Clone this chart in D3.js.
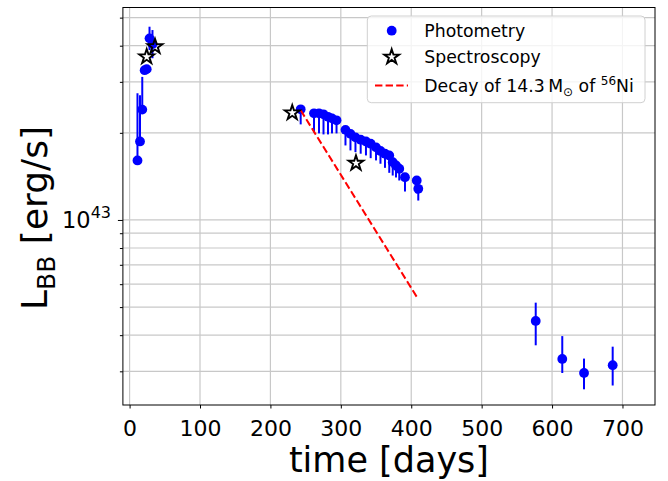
<!DOCTYPE html>
<html><head><meta charset="utf-8">
<script src="https://cdn.jsdelivr.net/npm/d3@7"></script>
<style>body{margin:0;background:#fff}svg{display:block;font-family:"DejaVu Sans",sans-serif}</style>
</head><body><svg id="c" width="668" height="481"></svg>
<script>
// Photometry: time [days], L_BB in units of 1e43 erg/s, error bar ends
const photDays = [11.2, 14.8, 18.0, 21.4, 24.3, 28.3, 32.5, 243.0, 261.9, 269.0, 275.4, 281.8, 287.5, 293.9, 306.6, 313.7, 320.8, 328.2, 335.7, 342.4, 350.0, 356.3, 362.7, 368.8, 373.7, 378.4, 383.0, 391.1, 407.8, 410.0, 576.8, 614.5, 645.4, 686.1];
const photLum  = [1.606, 1.868, 2.406, 3.292, 3.319, 4.240, 4.05, 2.412, 2.336, 2.336, 2.317, 2.272, 2.244, 2.209, 2.048, 1.983, 1.929, 1.894, 1.868, 1.834, 1.781, 1.732, 1.694, 1.671, 1.584, 1.543, 1.503, 1.405, 1.369, 1.281, 0.448, 0.331, 0.296, 0.315];
const photLow  = [1.606, 1.868, 2.354, 3.20, 3.25, 3.863, 3.62, 2.139, 2.007, 1.991, 1.975, 1.975, 1.991, 1.991, 1.809, 1.739, 1.716, 1.694, 1.671, 1.635, 1.606, 1.564, 1.514, 1.455, 1.424, 1.402, 1.369, 1.254, 1.234, 1.167, 0.369, 0.296, 0.260, 0.268];
const photHigh = [2.740, 2.697, 3.121, 3.40, 3.40, 4.652, 4.53, 2.412, 2.336, 2.336, 2.317, 2.272, 2.244, 2.209, 2.048, 1.983, 1.929, 1.894, 1.868, 1.834, 1.781, 1.732, 1.694, 1.671, 1.584, 1.543, 1.503, 1.405, 1.369, 1.281, 0.518, 0.397, 0.332, 0.365];
// Spectroscopy epochs
const specDays = [24.3, 36.1, 231.0, 321.5];
const specLum  = [3.661, 3.972, 2.345, 1.571];
// Decay of 14.3 Msun of 56Ni (straight on log axis)
const decayDays = [243.0, 410.0];
const decayLum  = [2.392, 0.532];
// Axis ticks
const xTicks = [0, 100, 200, 300, 400, 500, 600, 700];
const yMajor = [1];
const yMinor = [0.3, 0.4, 0.5, 0.6, 0.7, 0.8, 0.9, 2, 3, 4, 5];

const svg = d3.select("#c");
const m = {l: 122.9, r: 655, t: 7.5, b: 405};
const x = d3.scaleLinear().domain([-9.5, 746.2]).range([m.l, m.r]);
const y = d3.scaleLog().domain([0.2295, 5.42]).range([m.b, m.t]);
const blue = "#0000ff";
const FONT = "DejaVu Sans, sans-serif";

// grid
const grid = svg.append("g").attr("stroke", "#c8c8c8").attr("stroke-width", 1.2);
grid.selectAll("line.gx").data(xTicks).join("line")
  .attr("x1", d => x(d)).attr("x2", d => x(d)).attr("y1", m.t).attr("y2", m.b);
grid.selectAll("line.gy").data(yMajor.concat(yMinor)).join("line")
  .attr("y1", d => y(d)).attr("y2", d => y(d)).attr("x1", m.l).attr("x2", m.r);

// x axis
const gx = svg.append("g").attr("transform", `translate(0,${m.b})`)
  .call(d3.axisBottom(x).tickValues(xTicks).tickSize(3.5).tickFormat(d3.format("d")));
gx.select(".domain").remove();
gx.selectAll(".tick line").attr("stroke", "#000").attr("stroke-width", 1);
gx.selectAll("text").attr("font-size", 22).attr("font-family", FONT).attr("fill", "#000")
  .attr("dy", 0).attr("y", 30.5);

// y axis
const gyMaj = svg.append("g").attr("transform", `translate(${m.l},0)`)
  .call(d3.axisLeft(y).tickValues(yMajor).tickSize(5).tickFormat(""));
gyMaj.select(".domain").remove();
gyMaj.selectAll(".tick line").attr("stroke", "#000");
const gyMin = svg.append("g").attr("transform", `translate(${m.l},0)`)
  .call(d3.axisLeft(y).tickValues(yMinor).tickSize(3).tickFormat(""));
gyMin.select(".domain").remove();
gyMin.selectAll(".tick line").attr("stroke", "#000");

yMajor.forEach(v => {
  const t = svg.append("text").attr("x", 111).attr("y", y(v) + 8.3)
    .attr("text-anchor", "end").attr("font-family", FONT).attr("font-size", 22.5).attr("fill", "#000");
  t.append("tspan").text("10");
  t.append("tspan").attr("dy", -10).attr("font-size", 16).text(String(43 + Math.round(Math.log10(v))));
});

// data
const plot = svg.append("g");
plot.selectAll("line.err").data(photDays).join("line")
  .attr("x1", (d) => x(d)).attr("x2", (d) => x(d))
  .attr("y1", (d, i) => y(photLow[i])).attr("y2", (d, i) => y(photHigh[i]))
  .attr("stroke", blue).attr("stroke-width", 2);
plot.selectAll("circle.pt").data(photDays).join("circle")
  .attr("cx", d => x(d)).attr("cy", (d, i) => y(photLum[i])).attr("r", 4.9).attr("fill", blue);

plot.append("path")
  .attr("d", d3.line().x(d => x(d[0])).y(d => y(d[1]))(decayDays.map((d, i) => [d, decayLum[i]])))
  .attr("fill", "none").attr("stroke", "#ff0000").attr("stroke-width", 2).attr("stroke-dasharray", "7.4,3.2");

function starPath(R) {
  const r = R * 0.381966, p = [];
  for (let i = 0; i < 10; i++) {
    const a = -Math.PI / 2 + i * Math.PI / 5, rr = i % 2 ? r : R;
    p.push([rr * Math.cos(a), rr * Math.sin(a)]);
  }
  return "M" + p.map(q => q[0].toFixed(2) + "," + q[1].toFixed(2)).join("L") + "Z";
}
plot.selectAll("path.star").data(specDays).join("path")
  .attr("transform", (d, i) => `translate(${x(d)},${y(specLum[i])})`)
  .attr("d", starPath(7.8)).attr("fill", "none").attr("stroke", "#000").attr("stroke-width", 1.9)
  .attr("stroke-linejoin", "miter");

// frame
svg.append("rect").attr("x", m.l).attr("y", m.t).attr("width", m.r - m.l).attr("height", m.b - m.t)
  .attr("fill", "none").attr("stroke", "#000").attr("stroke-width", 1);

// legend
const lg = svg.append("g");
lg.append("rect").attr("x", 367.3).attr("y", 16).attr("width", 277.7).attr("height", 86.7).attr("rx", 4)
  .attr("fill", "#fff").attr("fill-opacity", 0.8).attr("stroke", "#d0d0d0").attr("stroke-width", 1);
lg.append("circle").attr("cx", 391.7).attr("cy", 30.7).attr("r", 4.9).attr("fill", blue);
lg.append("path").attr("transform", "translate(391.7,57)").attr("d", starPath(7.8))
  .attr("fill", "none").attr("stroke", "#000").attr("stroke-width", 1.9);
lg.append("line").attr("x1", 375).attr("x2", 408).attr("y1", 85.6).attr("y2", 85.6)
  .attr("stroke", "#ff0000").attr("stroke-width", 2).attr("stroke-dasharray", "7.4,3.2");
const lt = (yy) => lg.append("text").attr("x", 424.3).attr("y", yy).attr("font-family", FONT)
  .attr("font-size", 17.3).attr("fill", "#000");
lt(37.3).text("Photometry");
lt(63.3).text("Spectroscopy");
const t3 = lt(91.7);
t3.append("tspan").text("Decay of 14.3\u2009M");
t3.append("tspan").attr("font-size", 12).attr("dy", 4).text("\u2299");
t3.append("tspan").attr("dy", -4).text(" of ");
t3.append("tspan").attr("font-size", 12).attr("dy", -7).text("56");
t3.append("tspan").attr("dy", 7).text("Ni");

// axis labels
svg.append("text").attr("x", (m.l + m.r) / 2).attr("y", 472).attr("text-anchor", "middle")
  .attr("font-family", FONT).attr("font-size", 35).attr("fill", "#000").text("time [days]");
const yl = svg.append("text").attr("transform", "translate(47,218) rotate(-90)").attr("text-anchor", "middle")
  .attr("font-family", FONT).attr("font-size", 36).attr("fill", "#000");
yl.append("tspan").text("L");
yl.append("tspan").attr("font-size", 25).attr("dy", 8).text("BB");
yl.append("tspan").attr("dy", -8).text(" [erg/s]");
</script></body></html>
